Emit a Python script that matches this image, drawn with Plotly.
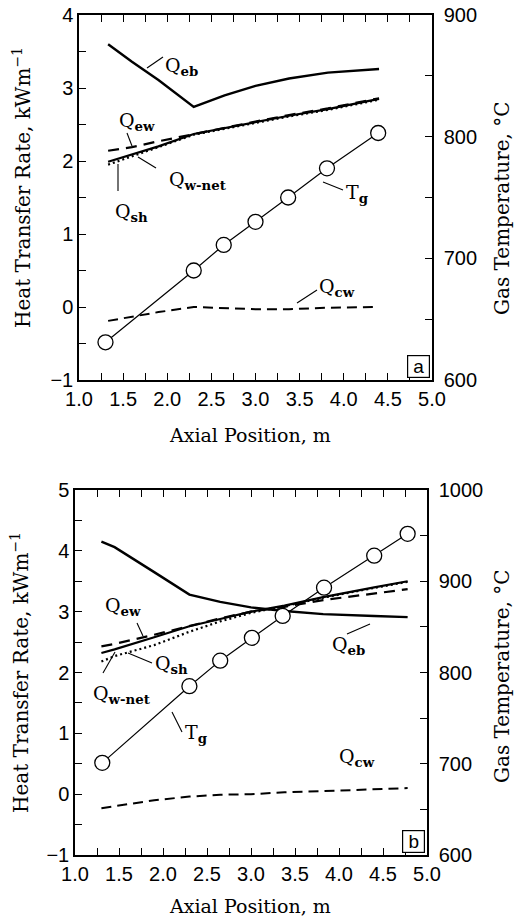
import plotly.graph_objects as go

# ---- Panel a: axial stations (m) and heat transfer rates (kW/m) ----
x_a = [1.33, 1.6, 1.9, 2.3, 2.65, 3.0, 3.38, 3.82, 4.4]
qeb_a = [3.60, 3.36, 3.11, 2.74, 2.90, 3.03, 3.13, 3.21, 3.26]
qwnet_a = [1.99, 2.09, 2.20, 2.37, 2.45, 2.53, 2.62, 2.71, 2.85]
qew_a = [2.14, 2.19, 2.27, 2.37, 2.46, 2.54, 2.63, 2.72, 2.86]
qsh_a = [1.95, 2.06, 2.19, 2.36, 2.44, 2.52, 2.61, 2.70, 2.84]
xcw_a = [1.33, 1.6, 1.9, 2.3, 2.65, 3.0, 3.38, 3.82, 4.33]
qcw_a = [-0.19, -0.13, -0.07, 0.0, -0.02, -0.03, -0.03, -0.01, 0.0]
# gas temperature (deg C)
xt_a = [1.30, 2.30, 2.64, 3.00, 3.37, 3.81, 4.39]
tg_a = [631, 690, 711, 730, 750, 774, 803]

# ---- Panel b ----
x_b = [1.3, 1.45, 1.9, 2.3, 2.65, 3.0, 3.38, 3.82, 4.4, 4.78]
qeb_b = [4.15, 4.06, 3.65, 3.28, 3.16, 3.07, 3.01, 2.96, 2.93, 2.91]
qwnet_b = [2.32, 2.38, 2.58, 2.76, 2.88, 3.00, 3.10, 3.24, 3.40, 3.50]
qew_b = [2.43, 2.47, 2.62, 2.77, 2.89, 3.00, 3.08, 3.19, 3.30, 3.37]
qsh_b = [2.18, 2.27, 2.45, 2.67, 2.84, 2.98, 3.09, 3.23, 3.39, 3.49]
qcw_b = [-0.23, -0.20, -0.10, -0.04, -0.01, 0.0, 0.03, 0.05, 0.08, 0.10]
xt_b = [1.31, 2.30, 2.65, 3.01, 3.36, 3.83, 4.40, 4.78]
tg_b = [701, 785, 813, 838, 862, 893, 928, 952]

W, H = 514, 919
TICK_FONT = dict(family="Liberation Sans", size=20, color="black")
SERIF = "DejaVu Serif"


def px(xp):
    return xp / W


def py(yp):
    return 1 - yp / H


fig = go.Figure()


def add_panel(xs, qeb, qwnet, qew, qsh, xcw, qcw, xt, tg, xa, ya, ya2):
    fig.add_trace(go.Scatter(x=xs, y=qeb, mode="lines", xaxis=xa, yaxis=ya,
                             line=dict(color="black", width=2.4)))
    fig.add_trace(go.Scatter(x=xs, y=qwnet, mode="lines", xaxis=xa, yaxis=ya,
                             line=dict(color="black", width=2.2)))
    fig.add_trace(go.Scatter(x=xs, y=qew, mode="lines", xaxis=xa, yaxis=ya,
                             line=dict(color="black", width=2.2, dash="11px,7px")))
    fig.add_trace(go.Scatter(x=xs, y=qsh, mode="lines", xaxis=xa, yaxis=ya,
                             line=dict(color="black", width=2.2, dash="2px,3px")))
    fig.add_trace(go.Scatter(x=xcw, y=qcw, mode="lines", xaxis=xa, yaxis=ya,
                             line=dict(color="black", width=2.0, dash="10px,6px")))
    fig.add_trace(go.Scatter(x=xt, y=tg, mode="lines+markers", xaxis=xa, yaxis=ya2,
                             line=dict(color="black", width=1.2),
                             marker=dict(symbol="circle", size=15, color="white",
                                         line=dict(color="black", width=1.3))))


add_panel(x_a, qeb_a, qwnet_a, qew_a, qsh_a, xcw_a, qcw_a, xt_a, tg_a, "x", "y", "y2")
add_panel(x_b, qeb_b, qwnet_b, qew_b, qsh_b, x_b, qcw_b, xt_b, tg_b, "x2", "y3", "y4")

common = dict(showgrid=False, zeroline=False, showline=True, linecolor="black",
              linewidth=1.5, ticks="inside", ticklen=7, tickwidth=1.3,
              tickcolor="black", tickfont=TICK_FONT, automargin=False)

panel_a = dict(x0=79, x1=432, top=15, bot=380)
panel_b = dict(x0=75, x1=427, top=490, bot=855)


def xaxis_for(p, anchor):
    return dict(common, domain=[px(p["x0"]), px(p["x1"])], range=[1, 5], anchor=anchor,
                tickmode="linear", tick0=1, dtick=0.5, tickformat=".1f",
                mirror="allticks",
                minor=dict(dtick=0.25, tick0=1, ticks="inside", ticklen=7,
                           tickwidth=1.3, tickcolor="black"))


def yaxis_for(p, anchor, rng):
    return dict(common, domain=[py(p["bot"]), py(p["top"])], range=rng, anchor=anchor,
                tickmode="linear", tick0=0, dtick=1,
                minor=dict(dtick=0.5, ticks="inside", ticklen=7, tickwidth=1.3,
                           tickcolor="black"))


def y2axis_for(anchor, over, rng):
    return dict(common, range=rng, anchor=anchor, overlaying=over, side="right",
                tickmode="linear", tick0=600, dtick=100, ticklabelstandoff=6,
                minor=dict(dtick=50, ticks="inside", ticklen=7, tickwidth=1.3,
                           tickcolor="black"))


fig.update_layout(
    template="none",
    width=W, height=H, autosize=False, margin=dict(l=0, r=0, t=0, b=0, pad=0),
    paper_bgcolor="white", plot_bgcolor="white", showlegend=False,
    xaxis=xaxis_for(panel_a, "y"),
    yaxis=yaxis_for(panel_a, "x", [-1, 4]),
    yaxis2=y2axis_for("x", "y", [600, 900]),
    xaxis2=xaxis_for(panel_b, "y3"),
    yaxis3=yaxis_for(panel_b, "x2", [-1, 5]),
    yaxis4=y2axis_for("x2", "y3", [600, 1000]),
)


def note(text, xp_, yp_, **kw):
    fig.add_annotation(text=text, x=px(xp_), y=py(yp_), xref="paper", yref="paper",
                       xanchor=kw.pop("xanchor", "center"),
                       yanchor=kw.pop("yanchor", "middle"),
                       showarrow=False, **kw)


# ---- axis titles ----
titles = [
    ("Axial Position, m", 250, 435, 0, 19),
    ("Axial Position, m", 250, 906, 0, 19),
    ("Heat Transfer Rate, kWm<sup>\u22121</sup>", 22, 188, -90, 20),
    ("Heat Transfer Rate, kWm<sup>\u22121</sup>", 20, 673, -90, 20),
    ("Gas Temperature, \u00b0C", 502, 208, -90, 20),
    ("Gas Temperature, \u00b0C", 502, 676, -90, 20),
]
for txt, xp_, yp_, ang, sz in titles:
    note(txt, xp_, yp_, textangle=ang, font=dict(family=SERIF, size=sz, color="black"))

# ---- curve labels ----
LABEL_FONT = dict(family=SERIF, size=19, color="black")
labels = [
    ("Q<sub><b>eb</b></sub>", 181, 66),
    ("Q<sub><b>ew</b></sub>", 137, 121),
    ("Q<sub><b>w-net</b></sub>", 198, 180),
    ("Q<sub><b>sh</b></sub>", 131, 212),
    ("T<sub><b>g</b></sub>", 357, 193),
    ("Q<sub><b>cw</b></sub>", 337, 287),
    ("Q<sub><b>ew</b></sub>", 123, 606),
    ("Q<sub><b>sh</b></sub>", 171, 664),
    ("Q<sub><b>w-net</b></sub>", 122, 694),
    ("T<sub><b>g</b></sub>", 196, 733),
    ("Q<sub><b>eb</b></sub>", 348, 645),
    ("Q<sub><b>cw</b></sub>", 357, 757),
]
for txt, xp_, yp_ in labels:
    note(txt, xp_, yp_, font=LABEL_FONT)

# leader lines from labels to their curves
leaders = [
    (147, 68, 163, 57), (132, 146, 127, 133), (138, 157, 156, 168),
    (118, 164, 118, 191), (323, 182, 343, 190), (297, 303, 317, 290),
    (137, 623, 143, 636), (128, 653, 152, 663), (115, 652, 103, 673),
    (172, 712, 182, 732), (370, 624, 347, 634),
]
for x0, y0, x1, y1 in leaders:
    fig.add_shape(type="line", xref="paper", yref="paper",
                  x0=px(x0), y0=py(y0), x1=px(x1), y1=py(y1),
                  line=dict(color="black", width=1.1))

# panel tags
for tag, xr, yb in [("a", 430, 378), ("b", 425, 853)]:
    note(tag, xr, yb, xanchor="right", yanchor="bottom",
         width=19, height=19, borderpad=1,
         bordercolor="black", borderwidth=1.2, bgcolor="white",
         font=dict(family="Liberation Sans", size=19, color="black"))

fig.write_html(
    "out.html",
    post_script=("document.body.style.margin='0px';"
                 "document.body.style.overflow='hidden';"
                 "document.documentElement.style.overflow='hidden';"),
)
